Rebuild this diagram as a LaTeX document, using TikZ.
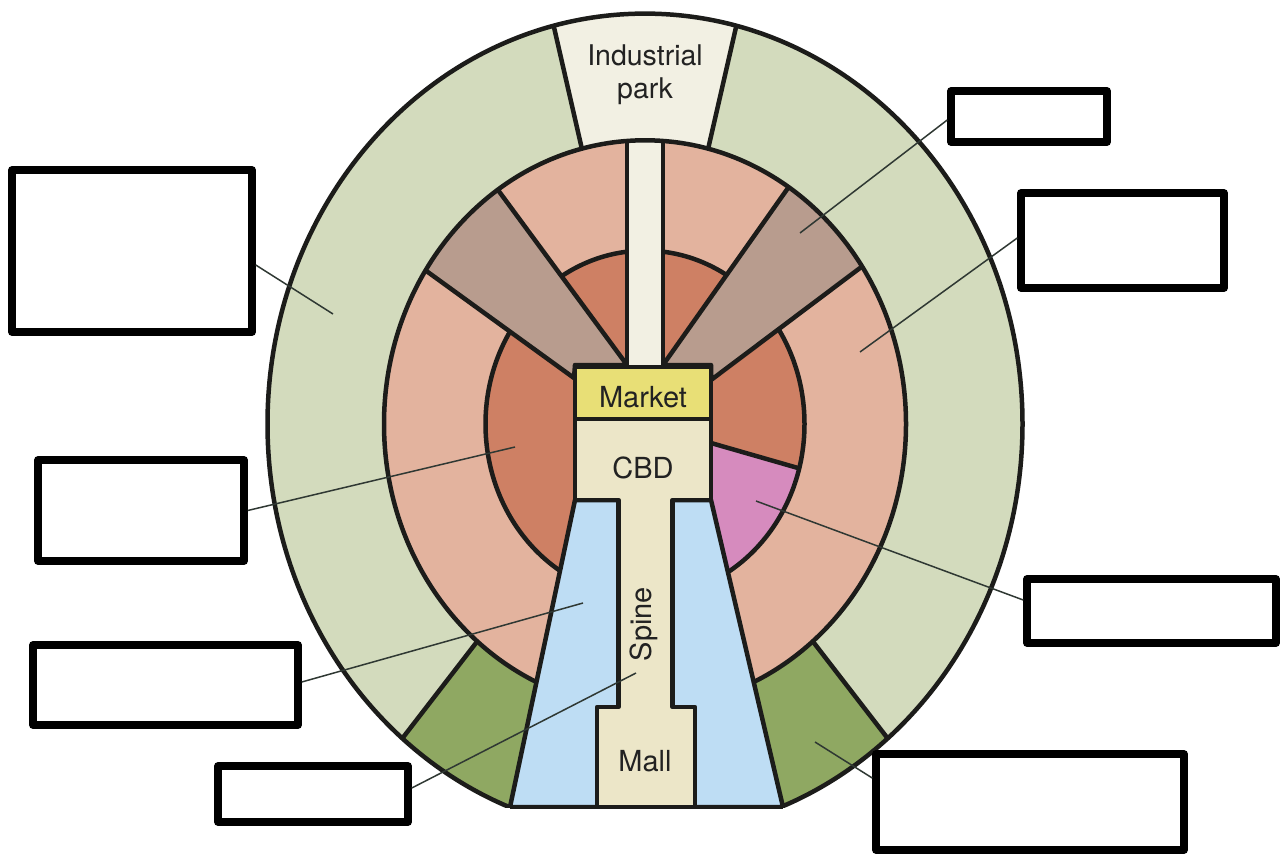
\documentclass[tikz,border=0pt]{standalone}
\usepackage{fontspec}
\setmainfont{TeX Gyre Heros}
\usetikzlibrary{calc}
\definecolor{outergreen}{HTML}{D3DBBD}
\definecolor{indcream}{HTML}{F2F0E3}
\definecolor{pinkring}{HTML}{E3B39E}
\definecolor{brownw}{HTML}{B89C8E}
\definecolor{darkin}{HTML}{CE8064}
\definecolor{purplez}{HTML}{D68BBE}
\definecolor{bluez}{HTML}{BEDDF4}
\definecolor{beigez}{HTML}{ECE6C8}
\definecolor{markety}{HTML}{E8DF76}
\definecolor{darkgreen}{HTML}{8FA862}
\definecolor{edgec}{HTML}{1C1C1A}
\definecolor{leaderc}{HTML}{2F3833}
\definecolor{textc}{HTML}{222222}
\begin{document}
\begin{tikzpicture}[x=1pt,y=-1pt,line join=round,
  zone/.style={draw=edgec,line width=4.5pt},
  labelbox/.style={draw=black,line width=7.5pt,fill=white,inner sep=0pt,outer sep=3.75pt,rectangle},
  leader/.style={draw=leaderc,line width=1.5pt},
  lbl/.style={font=\fontsize{29}{34}\selectfont,text=textc,inner sep=0pt}]
\useasboundingbox (0,0) rectangle (1284,854);
% geometry
\coordinate (C) at (645,424);
\coordinate (A1) at (627,365);
\coordinate (B1) at (498,190);
\coordinate (A2) at (574,378);
\coordinate (B2) at (425,270);
\coordinate (A3) at (663,365);
\coordinate (B3) at (788,188);
\coordinate (A4) at (711,380);
\coordinate (B4) at (860,268);
\coordinate (P1) at (711,443);
\coordinate (P2) at (798,468);
\begin{scope}
  \clip (C) ellipse [x radius=377.5, y radius=410.4];
  \clip (0,0) rectangle (1284,807);
  \begin{scope}[shift={(645,424)},yscale=-1.087]
    \fill[outergreen] (0,0) circle [radius=400];
    \fill[indcream] (0,0) -- (76:600) -- (104:600) -- cycle;
    \draw[zone] (76:255) -- (76:430) (104:255) -- (104:430);
    \fill[darkgreen] (0,0) -- (230:600) -- (270:600) -- (310:600) -- cycle;
    \draw[zone] (230:255) -- (230:430) (310:255) -- (310:430);
  \end{scope}
  \fill[pinkring] (C) ellipse [x radius=261, y radius=283.7];
  \fill[darkin] (C) ellipse [x radius=159.5, y radius=173.4];
  \begin{scope}
    \clip (C) ellipse [x radius=159.5, y radius=173.4];
    \fill[purplez] (P1) -- ($(P1)!2!(P2)$) -- (900,720) -- (711,720) -- cycle;
  \end{scope}
  \draw[zone] (C) ellipse [x radius=159.5, y radius=173.4];
  \draw[zone] (P1) -- (P2);
  \begin{scope}
    \clip (C) ellipse [x radius=261, y radius=283.7];
    \filldraw[zone,fill=brownw] (A1) -- ($(A1)!1.6!(B1)$) -- ($(A2)!1.6!(B2)$) -- (A2) -- (575,365) -- cycle;
    \filldraw[zone,fill=brownw] (A3) -- ($(A3)!1.6!(B3)$) -- ($(A4)!1.6!(B4)$) -- (A4) -- (711,365) -- cycle;
    \filldraw[zone,fill=indcream] (627,100) rectangle (663,367);
  \end{scope}
  \draw[zone] (C) ellipse [x radius=261, y radius=283.7];
  \filldraw[zone,fill=bluez] (575,500) -- (711,500) -- (783,807) -- (510,807) -- cycle;
  \filldraw[zone,fill=beigez] (575,419) -- (711,419) -- (711,500) -- (672.5,500) -- (672.5,707) -- (695,707) -- (695,810) -- (597,810) -- (597,707) -- (618.5,707) -- (618.5,500) -- (575,500) -- cycle;
  \filldraw[zone,fill=markety] (575,367) rectangle (711,419);
\end{scope}
% outer outline
\begin{scope}
  \clip (0,0) rectangle (1284,807);
  \draw[zone] (C) ellipse [x radius=377.5, y radius=410.4];
\end{scope}
\draw[zone] (510,807) -- (783,807);
% texts
\node[lbl,font=\fontsize{28.5}{33}\selectfont,align=center,anchor=base] (ind) at (645,98) {Industrial\\park};
\node[lbl,anchor=base] (market) at (643,407) {Market};
\node[lbl,anchor=base] (cbd) at (643,478) {CBD};
\node[lbl,anchor=base] (mall) at (645,771) {Mall};
\node[lbl,rotate=90] (spine) at (644,624) {Spine};
% label boxes
\node[labelbox,minimum width=240pt,minimum height=162pt] (b1) at (132,251) {};
\node[labelbox,minimum width=206pt,minimum height=101pt] (b2) at (141,510.5) {};
\node[labelbox,minimum width=265pt,minimum height=80pt] (b3) at (165.5,685) {};
\node[labelbox,minimum width=190pt,minimum height=56pt] (b4) at (313,794) {};
\node[labelbox,minimum width=156pt,minimum height=51pt] (b5) at (1029,116.5) {};
\node[labelbox,minimum width=203pt,minimum height=95pt] (b6) at (1122.5,240.5) {};
\node[labelbox,minimum width=249pt,minimum height=64pt] (b7) at (1151.5,611) {};
\node[labelbox,minimum width=308pt,minimum height=96pt] (b8) at (1030,802) {};
% leader targets
\coordinate (t1) at (333,314);
\coordinate (t2) at (515,447);
\coordinate (t3) at (583,603);
\coordinate (t4) at (636,673);
\coordinate (t5) at (800,233);
\coordinate (t6) at (860,352);
\coordinate (t7) at (756,501);
\coordinate (t8) at (815,742);
\draw[leader] ([yshift=-14pt]b1.east) -- (t1);
\draw[leader] (b2.east) -- (t2);
\draw[leader] ([yshift=3pt]b3.east) -- (t3);
\draw[leader] ([yshift=6pt]b4.east) -- (t4);
\draw[leader] ([yshift=-3.5pt]b5.west) -- (t5);
\draw[leader] ([yshift=2.5pt]b6.west) -- (t6);
\draw[leader] ([yshift=11pt]b7.west) -- (t7);
\draw[leader] ([yshift=24pt]b8.west) -- (t8);
\end{tikzpicture}
\end{document}
